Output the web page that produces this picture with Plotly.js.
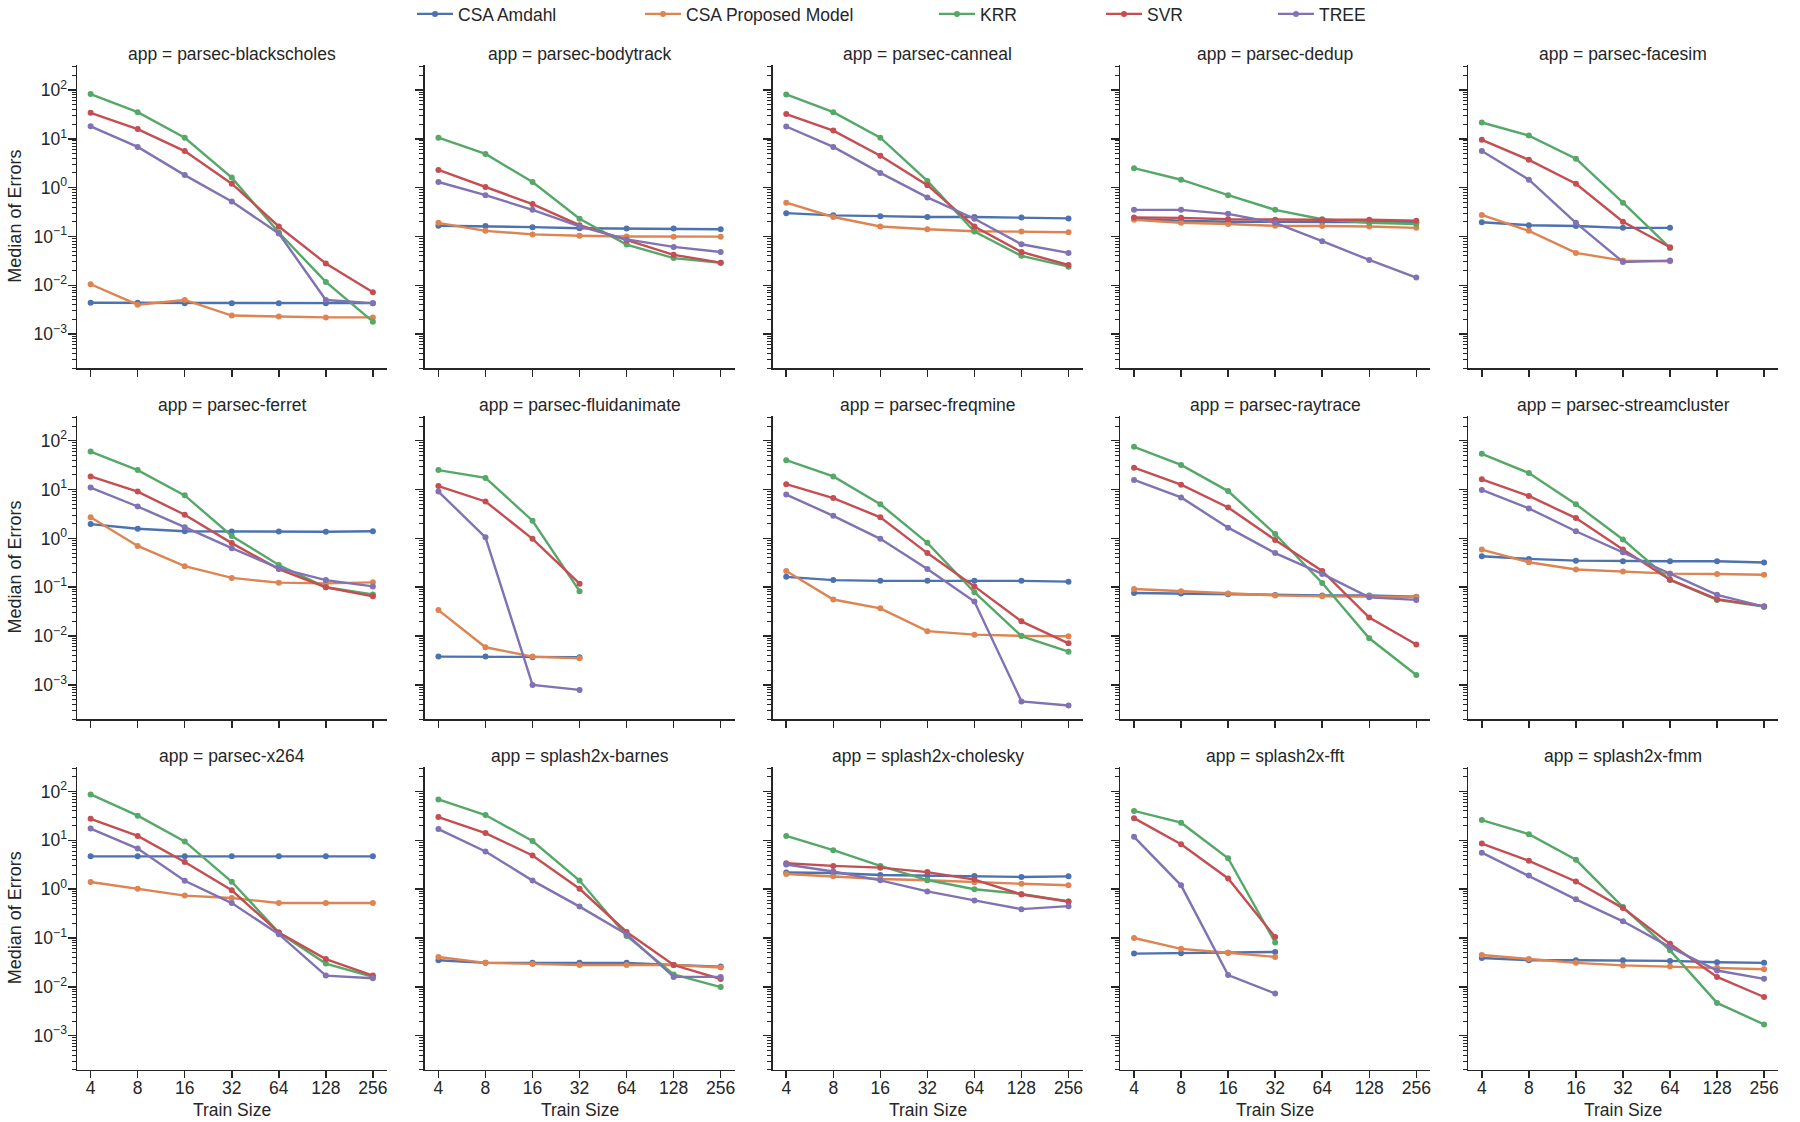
<!DOCTYPE html>
<html>
<head>
<meta charset="utf-8">
<script src="https://cdn.plot.ly/plotly-3.0.1.min.js"></script>
<style>
  html, body { margin: 0; padding: 0; background: #ffffff; }
  #chart { width: 1800px; height: 1122px; }
</style>
</head>
<body>
<div id="chart"></div>
<script>
// Training-set sizes on the x axis
const trainSizes = [4, 8, 16, 32, 64, 128, 256];
const trainSizeLabels = ['4', '8', '16', '32', '64', '128', '256'];

// One facet per application, laid out row by row (5 per row)
const apps = [
  'parsec-blackscholes', 'parsec-bodytrack', 'parsec-canneal', 'parsec-dedup', 'parsec-facesim',
  'parsec-ferret', 'parsec-fluidanimate', 'parsec-freqmine', 'parsec-raytrace', 'parsec-streamcluster',
  'parsec-x264', 'splash2x-barnes', 'splash2x-cholesky', 'splash2x-fft', 'splash2x-fmm'
];

const seriesNames = ['CSA Amdahl', 'CSA Proposed Model', 'KRR', 'SVR', 'TREE'];
const seriesColors = ['#4C72B0', '#DD8452', '#55A868', '#C44E52', '#8172B3'];

// Median of errors per app (rows follow `apps`, columns follow `trainSizes`)
const csaAmdahl = [
  [0.0044, 0.0044, 0.0043, 0.0043, 0.0043, 0.0043, 0.0043],
  [0.166, 0.163, 0.155, 0.147, 0.145, 0.145, 0.14],
  [0.30, 0.27, 0.26, 0.25, 0.25, 0.245, 0.234],
  [0.23, 0.21, 0.20, 0.20, 0.20, 0.195, 0.195],
  [0.195, 0.17, 0.163, 0.15, 0.15, null, null],
  [1.96, 1.58, 1.40, 1.38, 1.38, 1.37, 1.40],
  [0.0038, 0.0038, 0.0037, 0.0037, null, null, null],
  [0.163, 0.14, 0.135, 0.135, 0.135, 0.135, 0.13],
  [0.076, 0.074, 0.072, 0.069, 0.068, 0.068, 0.064],
  [0.43, 0.38, 0.35, 0.34, 0.34, 0.34, 0.32],
  [4.7, 4.7, 4.7, 4.7, 4.7, 4.7, 4.7],
  [0.035, 0.031, 0.031, 0.031, 0.031, 0.028, 0.026],
  [2.2, 2.14, 1.95, 1.9, 1.87, 1.78, 1.83],
  [0.048, 0.049, 0.050, 0.052, null, null, null],
  [0.039, 0.035, 0.035, 0.035, 0.034, 0.032, 0.031]
];

const csaProposed = [
  [0.0105, 0.0040, 0.0050, 0.0024, 0.0023, 0.0022, 0.0022],
  [0.19, 0.13, 0.11, 0.103, 0.10, 0.099, 0.099],
  [0.49, 0.25, 0.16, 0.14, 0.128, 0.126, 0.122],
  [0.22, 0.19, 0.18, 0.165, 0.163, 0.16, 0.15],
  [0.275, 0.13, 0.046, 0.032, 0.031, null, null],
  [2.7, 0.70, 0.27, 0.155, 0.124, 0.12, 0.126],
  [0.034, 0.0059, 0.0038, 0.0035, null, null, null],
  [0.215, 0.056, 0.037, 0.0126, 0.0107, 0.0101, 0.0099],
  [0.092, 0.083, 0.074, 0.068, 0.065, 0.065, 0.063],
  [0.59, 0.325, 0.23, 0.21, 0.19, 0.187, 0.18],
  [1.4, 1.02, 0.74, 0.66, 0.52, 0.52, 0.52],
  [0.041, 0.031, 0.0295, 0.028, 0.028, 0.028, 0.025],
  [2.04, 1.83, 1.62, 1.52, 1.38, 1.29, 1.2],
  [0.10, 0.060, 0.050, 0.041, null, null, null],
  [0.045, 0.037, 0.031, 0.0275, 0.026, 0.0245, 0.023]
];

const krr = [
  [82, 35, 10.5, 1.6, 0.12, 0.0117, 0.0018],
  [10.5, 4.9, 1.3, 0.23, 0.068, 0.036, 0.029],
  [81, 35, 10.5, 1.37, 0.126, 0.040, 0.024],
  [2.5, 1.45, 0.70, 0.35, 0.225, 0.19, 0.18],
  [21.5, 11.6, 3.9, 0.49, 0.058, null, null],
  [60, 25, 7.6, 1.12, 0.285, 0.10, 0.071],
  [25, 17.3, 2.3, 0.083, null, null, null],
  [40, 18.6, 5.0, 0.81, 0.079, 0.010, 0.0048],
  [75, 32, 9.3, 1.23, 0.122, 0.009, 0.0016],
  [54, 21.8, 5.0, 0.95, 0.14, 0.055, 0.040],
  [87, 32, 9.5, 1.42, 0.13, 0.030, 0.016],
  [69, 33, 9.7, 1.5, 0.11, 0.018, 0.0099],
  [12.3, 6.3, 3.0, 1.54, 1.0, 0.80, 0.56],
  [40, 23, 4.3, 0.081, null, null, null],
  [26, 13.4, 4.0, 0.43, 0.056, 0.0047, 0.0017]
];

const svr = [
  [34, 15.8, 5.6, 1.2, 0.16, 0.028, 0.0072],
  [2.3, 1.03, 0.46, 0.17, 0.083, 0.042, 0.029],
  [32, 14.7, 4.5, 1.12, 0.16, 0.048, 0.026],
  [0.245, 0.24, 0.225, 0.22, 0.22, 0.22, 0.21],
  [9.5, 3.7, 1.2, 0.20, 0.060, null, null],
  [18.6, 9.1, 3.05, 0.80, 0.235, 0.10, 0.065],
  [11.8, 5.7, 0.98, 0.118, null, null, null],
  [12.9, 6.7, 2.7, 0.50, 0.104, 0.020, 0.0071],
  [28, 12.6, 4.3, 0.93, 0.215, 0.024, 0.0067],
  [16.2, 7.4, 2.6, 0.59, 0.143, 0.057, 0.041],
  [27.6, 12.3, 3.6, 0.95, 0.13, 0.037, 0.017],
  [30, 14.1, 4.9, 1.02, 0.133, 0.028, 0.0145],
  [3.4, 3.0, 2.76, 2.24, 1.57, 0.78, 0.56],
  [28.5, 8.3, 1.66, 0.105, null, null, null],
  [8.6, 3.8, 1.44, 0.41, 0.076, 0.016, 0.0062]
];

const tree = [
  [18, 6.8, 1.8, 0.52, 0.115, 0.005, 0.0043],
  [1.3, 0.70, 0.35, 0.16, 0.087, 0.061, 0.048],
  [17.8, 6.8, 2.0, 0.63, 0.23, 0.069, 0.046],
  [0.35, 0.35, 0.29, 0.19, 0.080, 0.033, 0.0144],
  [5.6, 1.45, 0.19, 0.030, 0.032, null, null],
  [11, 4.5, 1.7, 0.63, 0.245, 0.14, 0.104],
  [9.1, 1.05, 0.0010, 0.00079, null, null, null],
  [7.9, 2.9, 0.98, 0.235, 0.051, 0.00046, 0.00038],
  [15.7, 6.9, 1.66, 0.50, 0.187, 0.062, 0.055],
  [9.8, 4.1, 1.4, 0.52, 0.187, 0.070, 0.040],
  [17.4, 6.8, 1.49, 0.52, 0.12, 0.017, 0.015],
  [17, 5.9, 1.5, 0.44, 0.12, 0.016, 0.016],
  [3.2, 2.3, 1.52, 0.90, 0.59, 0.39, 0.45],
  [11.8, 1.2, 0.0174, 0.0073, null, null, null],
  [5.6, 1.9, 0.62, 0.22, 0.065, 0.0216, 0.0146]
];

// Y tick labels (decades)
const yTickVals = [1e-3, 1e-2, 1e-1, 1, 10, 100];
const yTickText = ['10<sup>\u22123</sup>', '10<sup>\u22122</sup>', '10<sup>\u22121</sup>',
                   '10<sup>0</sup>', '10<sup>1</sup>', '10<sup>2</sup>'];

const seriesData = [csaAmdahl, csaProposed, krr, svr, tree];

// ---- layout geometry (pixels) ----
const W = 1800, H = 1122;
const NCOL = 5;
const colLeft0 = 77, colStep = 347.8, colWidth = 310;
const rowTop0 = 65, rowStep = 350.8, rowHeight = 303.3;
const ink = '#262626';
const fontFamily = '"Liberation Sans", Arial, Helvetica, sans-serif';
const textSize = 17.5;

const yRange = [-3.70, 2.51];
const lg2 = Math.log10(2);
const xRange = [Math.log10(4) - 0.29 * lg2, Math.log10(256) + 0.30 * lg2];

// minor ticks at 2..9 x 10^k inside the visible range
const yMinorVals = [];
for (let k = -4; k <= 2; k++) {
  for (let m = 2; m <= 9; m++) {
    const v = m * Math.pow(10, k);
    const lv = Math.log10(v);
    if (lv >= yRange[0] && lv <= yRange[1]) yMinorVals.push(v);
  }
}

const px2x = p => p / W;
const px2y = p => 1 - p / H;

const traces = [];
const layout = {
  width: W, height: H,
  margin: { l: 0, r: 0, t: 0, b: 0, autoexpand: false },
  paper_bgcolor: '#ffffff',
  plot_bgcolor: '#ffffff',
  font: { family: fontFamily, size: textSize, color: ink },
  hovermode: false,
  annotations: []
};

apps.forEach((app, i) => {
  const row = Math.floor(i / NCOL);
  const col = i % NCOL;
  const n = i + 1;
  const xName = n === 1 ? 'xaxis' : 'xaxis' + n;
  const yName = n === 1 ? 'yaxis' : 'yaxis' + n;
  const xRef = n === 1 ? 'x' : 'x' + n;
  const yRef = n === 1 ? 'y' : 'y' + n;

  const left = colLeft0 + col * colStep;
  const right = left + colWidth;
  const top = rowTop0 + row * rowStep;
  const bottom = top + rowHeight;

  layout[xName] = {
    type: 'log',
    domain: [px2x(left), px2x(right)],
    range: xRange,
    anchor: yRef,
    showline: true, linecolor: ink, linewidth: 1.5,
    ticks: 'outside', ticklen: 7, tickwidth: 1.5, tickcolor: ink,
    tickmode: 'array', tickvals: trainSizes, ticktext: trainSizeLabels,
    showticklabels: row === 2,
    ticklabelstandoff: -5,
    tickfont: { family: fontFamily, size: textSize, color: ink },
    showgrid: false, zeroline: false
  };
  layout[yName] = {
    type: 'log',
    domain: [px2y(bottom), px2y(top)],
    range: yRange,
    anchor: xRef,
    showline: true, linecolor: ink, linewidth: 1.5,
    ticks: 'outside', ticklen: 8, tickwidth: 1.5, tickcolor: ink,
    tickmode: 'array', tickvals: yTickVals, ticktext: yTickText,
    showticklabels: col === 0,
    ticklabelstandoff: -3,
    tickfont: { family: fontFamily, size: textSize, color: ink },
    showgrid: false, zeroline: false,
    minor: { tickmode: 'array', tickvals: yMinorVals, ticks: 'outside',
             ticklen: 4, tickwidth: 1, tickcolor: ink, showgrid: false }
  };

  // facet title
  layout.annotations.push({
    xref: 'paper', yref: 'paper',
    x: px2x((left + right) / 2), y: px2y(top - 11),
    xanchor: 'center', yanchor: 'middle',
    text: 'app = ' + app, showarrow: false,
    font: { family: fontFamily, size: textSize, color: ink }
  });

  seriesNames.forEach((name, s) => {
    traces.push({
      type: 'scatter', mode: 'lines+markers',
      x: trainSizes, y: seriesData[s][i],
      xaxis: xRef, yaxis: yRef,
      name: name,
      legend: s === 0 ? 'legend' : 'legend' + (s + 1),
      showlegend: i === 0,
      line: { color: seriesColors[s], width: 2.4 },
      marker: { color: seriesColors[s], size: 6 },
      connectgaps: false
    });
  });
});

// shared axis titles
for (let row = 0; row < 3; row++) {
  const top = rowTop0 + row * rowStep;
  layout.annotations.push({
    xref: 'paper', yref: 'paper',
    x: px2x(15), y: px2y(top + rowHeight / 2),
    xanchor: 'center', yanchor: 'middle', textangle: -90,
    text: 'Median of Errors', showarrow: false,
    font: { family: fontFamily, size: 18, color: ink }
  });
}
for (let col = 0; col < NCOL; col++) {
  const left = colLeft0 + col * colStep;
  layout.annotations.push({
    xref: 'paper', yref: 'paper',
    x: px2x(left + colWidth / 2), y: px2y(1110),
    xanchor: 'center', yanchor: 'middle',
    text: 'Train Size', showarrow: false,
    font: { family: fontFamily, size: textSize, color: ink }
  });
}

// one legend per series, spread across the top
const legendLeft = [412, 640, 934, 1101, 1273];
legendLeft.forEach((lx, s) => {
  const key = s === 0 ? 'legend' : 'legend' + (s + 1);
  layout[key] = {
    orientation: 'h',
    x: px2x(lx), y: px2y(14),
    xanchor: 'left', yanchor: 'middle',
    bgcolor: 'rgba(0,0,0,0)',
    borderwidth: 0,
    itemwidth: 36,
    font: { family: fontFamily, size: textSize, color: ink }
  };
});

Plotly.newPlot('chart', traces, layout, { staticPlot: true, displayModeBar: false });
</script>
</body>
</html>
